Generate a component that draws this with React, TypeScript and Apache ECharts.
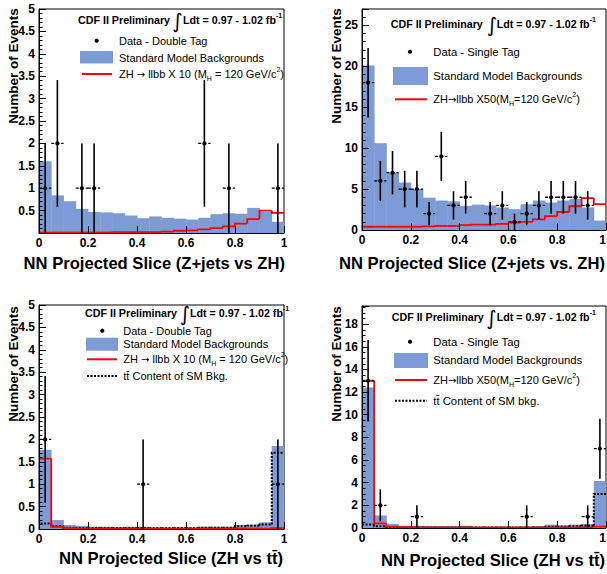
import React, { useEffect, useRef } from 'react';
import * as echarts from 'echarts';

// ---------- data ----------
const binEdges = [0, 0.05, 0.1, 0.15, 0.2, 0.25, 0.3, 0.35, 0.4, 0.45, 0.5, 0.55, 0.6, 0.65, 0.7, 0.75, 0.8, 0.85, 0.9, 0.95, 1];
const xTickLabels = ['0', '0.2', '0.4', '0.6', '0.8', '1'];

// Panel 1: Z+jets vs ZH, double tag
const bkgZjDouble = [1.6, 0.84, 0.71, 0.54, 0.47, 0.46, 0.44, 0.39, 0.33, 0.37, 0.34, 0.32, 0.3, 0.34, 0.42, 0.44, 0.43, 0.56, 0.47, 0.25];
const sigZjDouble = [0.01, 0.01, 0.01, 0.01, 0.01, 0.01, 0.02, 0.02, 0.02, 0.02, 0.03, 0.05, 0.06, 0.08, 0.11, 0.15, 0.21, 0.31, 0.5, 0.45];
const dataZjDouble = [1, 2, 0, 1, 1, 0, 0, 0, 0, 0, 0, 0, 0, 2, 0, 1, 0, 0, 0, 1];

// Panel 2: Z+jets vs ZH, single tag
const bkgZjSingle = [20.1, 10.6, 7.0, 5.8, 5.0, 3.95, 3.6, 3.5, 2.95, 3.1, 3.0, 2.75, 2.55, 3.15, 3.6, 3.35, 3.6, 3.8, 2.75, 1.15];
const sigZjSingle = [0.4, 0.4, 0.4, 0.4, 0.4, 0.45, 0.5, 0.5, 0.6, 0.65, 0.65, 0.75, 0.9, 1.0, 1.3, 1.7, 2.2, 2.9, 3.9, 3.15];
const dataZjSingle = [18, 6, 7, 5, 5, 2, 9, 3, 4, 0, 2, 3, 1, 2, 3, 4, 4, 4, 3, 0];

// Panel 3: ZH vs ttbar, double tag
const bkgTtDouble = [1.77, 0.2, 0.09, 0.07, 0.05, 0.05, 0.04, 0.05, 0.05, 0.03, 0.03, 0.03, 0.03, 0.05, 0.05, 0.05, 0.09, 0.1, 0.15, 1.85];
const sigTtDouble = [1.57, 0.05, 0.02, 0.01, 0.01, 0.01, 0.01, 0.01, 0.01, 0.01, 0.01, 0.01, 0.01, 0.01, 0.01, 0.01, 0.01, 0.01, 0.01, 0.02];
const ttTtDouble = [0.12, 0.06, 0.03, 0.02, 0.02, 0.02, 0.02, 0.02, 0.02, 0.02, 0.02, 0.02, 0.02, 0.03, 0.03, 0.03, 0.06, 0.07, 0.1, 1.7];
const dataTtDouble = [2, 0, 0, 0, 0, 0, 0, 0, 1, 0, 0, 0, 0, 0, 0, 0, 0, 0, 0, 1];

// Panel 4: ZH vs ttbar, single tag
const bkgTtSingle = [12.4, 1.1, 0.35, 0.2, 0.2, 0.15, 0.15, 0.15, 0.2, 0.1, 0.1, 0.1, 0.1, 0.1, 0.15, 0.3, 0.25, 0.3, 0.35, 4.15];
const sigTtSingle = [13.0, 0.4, 0.12, 0.08, 0.06, 0.05, 0.05, 0.05, 0.05, 0.05, 0.05, 0.05, 0.05, 0.05, 0.05, 0.05, 0.05, 0.05, 0.06, 0.12];
const ttTtSingle = [0.3, 0.15, 0.08, 0.05, 0.05, 0.05, 0.05, 0.05, 0.05, 0.05, 0.05, 0.05, 0.05, 0.05, 0.05, 0.1, 0.1, 0.15, 0.2, 3.0];
const dataTtSingle = [13, 2, 0, 0, 1, 0, 0, 0, 0, 0, 0, 0, 0, 1, 0, 0, 0, 0, 1, 7];

// ---------- style ----------
const FONT = '"Liberation Sans", Arial, Helvetica, sans-serif';
const BLUE = '#7d9bd5';
const RED = '#ff0000';

const histItems = (vals: number[]) => vals.map((v, i) => [binEdges[i], binEdges[i + 1], v]);
const stepItems = (vals: number[]) => vals.map((v, i) => [binEdges[i], binEdges[i + 1], v, i === 0 ? 0 : vals[i - 1]]);
const pointItems = (counts: number[]) => {
  const out: number[][] = [];
  counts.forEach((n, i) => {
    if (n > 0) out.push([(binEdges[i] + binEdges[i + 1]) / 2, binEdges[i], binEdges[i + 1], n]);
  });
  return out;
};

const renderFill = (params: any, api: any) => {
  const p0 = api.coord([api.value(0), api.value(2)]);
  const p1 = api.coord([api.value(1), 0]);
  return {
    type: 'rect',
    shape: { x: p0[0], y: p0[1], width: p1[0] - p0[0] + 0.4, height: p1[1] - p0[1] },
    style: { fill: BLUE },
  };
};

const makeStep = (color: string, width: number, dash: any) => (params: any, api: any) => {
  const lo = api.value(0), hi = api.value(1), v = api.value(2), pv = api.value(3);
  const a = api.coord([lo, pv]), b = api.coord([lo, v]), c = api.coord([hi, v]);
  return {
    type: 'polyline',
    shape: { points: [a, b, c] },
    style: { stroke: color, lineWidth: width, fill: null, lineDash: dash },
  };
};

const renderPoint = (params: any, api: any) => {
  const x = api.value(0), lo = api.value(1), hi = api.value(2), n = api.value(3);
  const e = Math.sqrt(n);
  const c = api.coord([x, n]);
  const t = api.coord([x, n + e]);
  const b = api.coord([x, Math.max(0, n - e)]);
  const l = api.coord([lo, n]);
  const r = api.coord([hi, n]);
  return {
    type: 'group',
    children: [
      { type: 'line', shape: { x1: t[0], y1: t[1], x2: b[0], y2: b[1] }, style: { stroke: '#000', lineWidth: 1.6 } },
      { type: 'line', shape: { x1: l[0], y1: l[1], x2: r[0], y2: r[1] }, style: { stroke: '#000', lineWidth: 1.3, lineDash: [3, 2] } },
      { type: 'circle', shape: { cx: c[0], cy: c[1], r: 2.1 }, style: { fill: '#000' } },
    ],
  };
};

const grids = [
  { left: 39, top: 9, width: 245, height: 224 },
  { left: 362, top: 9, width: 244, height: 221 },
  { left: 39, top: 305, width: 245, height: 224 },
  { left: 362, top: 306, width: 244, height: 222 },
];

const yCfg = [
  { max: 5, interval: 0.5, minor: 5, hideZero: true, showMax: true },
  { max: 27, interval: 5, minor: 5, hideZero: false, showMax: false },
  { max: 5, interval: 0.5, minor: 5, hideZero: false, showMax: true },
  { max: 19.6, interval: 2, minor: 4, hideZero: false, showMax: false },
];

const labelStyle = { color: '#000', fontFamily: FONT, fontWeight: 'bold' as const, fontSize: 12 };

function buildOption() {
  const xAxis = grids.map((_, i) => ({
    type: 'value', gridIndex: i, min: 0, max: 1, interval: 0.2, z: 5,
    axisLine: { show: true, lineStyle: { color: '#000', width: 1 } },
    axisTick: { show: true, inside: true, length: 7, lineStyle: { color: '#000' } },
    splitLine: { show: false },
    axisLabel: {
      ...labelStyle, margin: 4,
      alignMaxLabel: i % 2 === 1 ? 'right' : 'center',
      formatter: (v: number) => xTickLabels[Math.round(v / 0.2)] ?? '',
    },
  }));
  const yAxis = yCfg.map((c, i) => ({
    type: 'value', gridIndex: i, min: 0, max: c.max, interval: c.interval, z: 5,
    axisLine: { show: true, lineStyle: { color: '#000', width: 1 } },
    axisTick: { show: true, inside: true, length: 7, lineStyle: { color: '#000' } },
    minorTick: { show: true, splitNumber: c.minor, length: 3.5, lineStyle: { color: '#000' } },
    splitLine: { show: false },
    minorSplitLine: { show: false },
    axisLabel: {
      ...labelStyle, margin: 4, showMaxLabel: c.showMax,
      formatter: (v: number) => (c.hideZero && v === 0 ? '' : String(Math.round(v * 10) / 10)),
    },
  }));

  const bkg = [bkgZjDouble, bkgZjSingle, bkgTtDouble, bkgTtSingle];
  const sig = [sigZjDouble, sigZjSingle, sigTtDouble, sigTtSingle];
  const tt: (number[] | null)[] = [null, null, ttTtDouble, ttTtSingle];
  const dat = [dataZjDouble, dataZjSingle, dataTtDouble, dataTtSingle];

  const series: any[] = [];
  for (let i = 0; i < 4; i++) {
    series.push({ type: 'custom', xAxisIndex: i, yAxisIndex: i, renderItem: renderFill, data: histItems(bkg[i]), clip: true, z: 2 });
    const t = tt[i];
    if (t) series.push({ type: 'custom', xAxisIndex: i, yAxisIndex: i, renderItem: makeStep('#000', 2, [2, 1.5]), data: stepItems(t), clip: true, z: 3 });
    series.push({ type: 'custom', xAxisIndex: i, yAxisIndex: i, renderItem: makeStep(RED, 1.8, null), data: stepItems(sig[i]), clip: true, z: 3 });
    series.push({ type: 'custom', xAxisIndex: i, yAxisIndex: i, renderItem: renderPoint, data: pointItems(dat[i]), clip: true, z: 4 });
  }

  const txt = (x: number, y: number, text: string, size: number, bold: boolean, extra: any = {}) => ({
    type: 'text', x, y, z: 10,
    style: { text, fill: '#000', font: `${bold ? 'bold ' : ''}${size}px ${FONT}`, verticalAlign: 'middle', align: 'left', ...extra },
  });
  const rich = {
    a: { fontSize: 11, fontFamily: FONT, fill: '#000', lineHeight: 16 },
    r: { fontSize: 10, fontFamily: '"DejaVu Sans"', fill: '#000', lineHeight: 16 },
    s: { fontSize: 7, fontFamily: FONT, fill: '#000', verticalAlign: 'bottom', lineHeight: 16, padding: [8, 0, 0, 0] },
    p: { fontSize: 7, fontFamily: FONT, fill: '#000', verticalAlign: 'top', lineHeight: 16, padding: [0, 0, 6, 0] },
    b: { fontSize: 10.7, fontFamily: FONT, fontWeight: 'bold', fill: '#000', lineHeight: 16 },
    bp: { fontSize: 7, fontFamily: FONT, fontWeight: 'bold', fill: '#000', verticalAlign: 'top', lineHeight: 16, padding: [0, 0, 7, 0] },
  };
  const richTxt = (x: number, y: number, text: string) => ({
    type: 'text', x, y, z: 10,
    style: { text, rich, verticalAlign: 'middle', align: 'left' },
  });
  const integral = (x: number, y: number) => ({
    type: 'text', x, y, z: 10,
    style: { text: '\u222B', fill: '#000', font: `20px "DejaVu Sans"`, verticalAlign: 'middle', align: 'center' },
  });
  const header = (x1: number, xi: number, x2: number, y: number) => [
    txt(x1, y, 'CDF II Preliminary', 10.7, true),
    integral(xi, y + 1),
    richTxt(x2, y, '{b|Ldt = 0.97 - 1.02 fb}{bp|-1}'),
  ];
  const marker = (x: number, y: number) => ({ type: 'circle', z: 10, shape: { cx: x, cy: y, r: 2.1 }, style: { fill: '#000' } });
  const box = (x: number, y: number, w: number, h: number) => ({ type: 'rect', z: 10, shape: { x, y, width: w, height: h }, style: { fill: BLUE } });
  const hline = (x1: number, x2: number, y: number, color: string, dash: any) => ({
    type: 'line', z: 10, shape: { x1, y1: y, x2, y2: y }, style: { stroke: color, lineWidth: 2, lineDash: dash },
  });
  const zhDouble = '{a|ZH }{r|\u2192}{a| llbb X 10 (M}{s|H}{a| = 120 GeV/c}{p|2}{a|)}';
  const zhSingle = '{a|ZH}{r|\u2192}{a|llbb X50(M}{s|H}{a|=120 GeV/c}{p|2}{a|)}';

  const yTitle = (x: number, y: number) => ({
    type: 'text', x, y, rotation: Math.PI / 2, z: 10,
    style: { text: 'Number of Events', fill: '#000', font: `bold 13.5px ${FONT}`, align: 'center', verticalAlign: 'middle' },
  });
  const xTitle = (x: number, y: number, text: string) => ({
    type: 'text', x, y, z: 10,
    style: { text, fill: '#000', font: `bold 16.6px ${FONT}`, align: 'right', verticalAlign: 'middle' },
  });

  const graphic: any[] = [
    // panel 1
    ...header(78, 177.5, 183, 20),
    marker(96.7, 40.7), txt(119, 40.7, 'Data - Double Tag', 11, false),
    box(80, 51, 33, 12.5), txt(119, 57.7, 'Standard Model Backgrounds', 11, false),
    hline(82, 112, 74, RED, null), richTxt(119, 74, zhDouble),
    yTitle(13, 66), xTitle(285, 263, 'NN Projected Slice (Z+jets vs ZH)'),
    // panel 2
    ...header(390.7, 492, 496.7, 24),
    marker(410, 51.7), txt(433.3, 51.7, 'Data - Single Tag', 11.3, false),
    box(393, 67, 35, 18), txt(433.3, 76, 'Standard Model Backgrounds', 11.3, false),
    hline(395, 427, 99.3, RED, null), richTxt(433.3, 99.3, zhSingle),
    yTitle(336, 66), xTitle(605, 263, 'NN Projected Slice (Z+jets vs. ZH)'),
    // panel 3
    ...header(85, 185, 190, 312.7),
    marker(102.3, 330.7), txt(123.3, 330.7, 'Data - Double Tag', 11, false),
    box(86, 337.7, 32, 13), txt(123.3, 344.3, 'Standard Model Backgrounds', 11, false),
    hline(87, 117, 359.3, RED, null), richTxt(123.3, 359.3, zhDouble),
    hline(87, 117, 376, '#000', [2, 1.5]), txt(123.3, 376, 'tt\u0304 Content of SM Bkg.', 11, false),
    yTitle(13, 364), xTitle(283, 558, 'NN Projected Slice (ZH vs tt\u0304)'),
    // panel 4
    ...header(391.7, 491.5, 496.7, 317.3),
    marker(410, 341.7), txt(433.3, 341.7, 'Data - Single Tag', 11.3, false),
    box(394, 353, 34, 15), txt(433.3, 360.3, 'Standard Model Backgrounds', 11.3, false),
    hline(395, 427, 380, RED, null), richTxt(433.3, 380, zhSingle),
    hline(395, 427, 400.7, '#000', [2, 1.5]), txt(433.3, 400.7, 'tt\u0304 Content of SM bkg.', 11.3, false),
    yTitle(336, 364), xTitle(605, 560, 'NN Projected Slice (ZH vs tt\u0304)'),
  ];

  return {
    animation: false,
    backgroundColor: '#fff',
    grid: grids.map((g) => ({ ...g, show: true, borderColor: '#000', borderWidth: 1, backgroundColor: 'transparent', containLabel: false, outerBoundsMode: 'none' })),
    xAxis,
    yAxis,
    series,
    graphic,
  };
}

export default function App() {
  const ref = useRef<HTMLDivElement>(null);
  useEffect(() => {
    if (!ref.current) return;
    const chart = echarts.init(ref.current, null, { renderer: 'svg' });
    chart.setOption(buildOption() as any);
    return () => chart.dispose();
  }, []);
  return <div ref={ref} style={{ position: 'absolute', left: 0, top: 0, width: 607, height: 574, background: '#fff' }} />;
}
